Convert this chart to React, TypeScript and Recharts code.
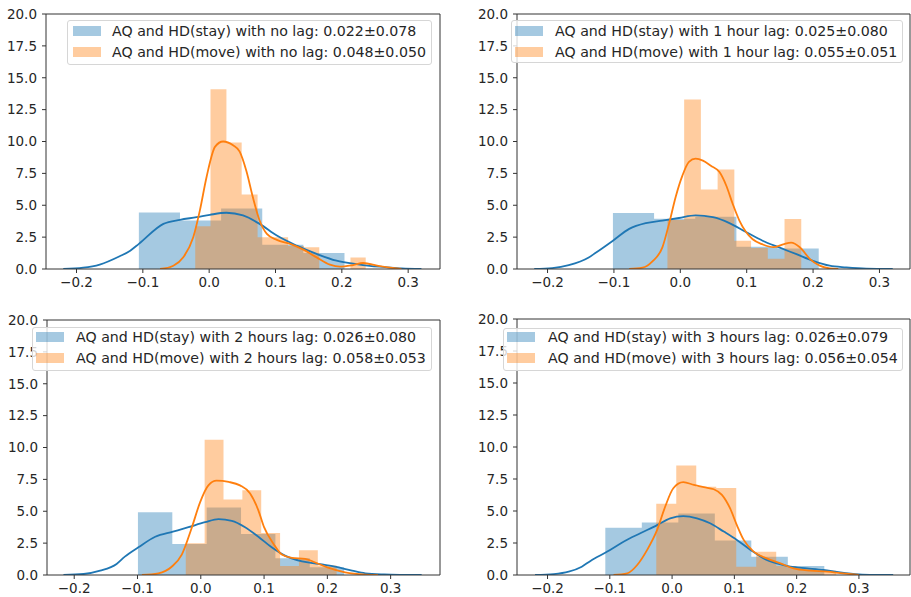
import React from "react";
import {
  ComposedChart,
  Area,
  Line,
  XAxis,
  YAxis,
  ReferenceLine,
} from "recharts";

const BLUE = "#1f77b4";
const ORANGE = "#ff7f0e";
const FONT = "'DejaVu Sans', sans-serif";
const TEXT = "#262626";

const Y_TICKS = [0, 2.5, 5, 7.5, 10, 12.5, 15, 17.5, 20];
const X_TICKS = [-0.2, -0.1, 0, 0.1, 0.2, 0.3];

const stayLabels = [
  "AQ and HD(stay) with no lag: 0.022±0.078",
  "AQ and HD(stay) with 1 hour lag: 0.025±0.080",
  "AQ and HD(stay) with 2 hours lag: 0.026±0.080",
  "AQ and HD(stay) with 3 hours lag: 0.026±0.079",
];
const moveLabels = [
  "AQ and HD(move) with no lag: 0.048±0.050",
  "AQ and HD(move) with 1 hour lag: 0.055±0.051",
  "AQ and HD(move) with 2 hours lag: 0.058±0.053",
  "AQ and HD(move) with 3 hours lag: 0.056±0.054",
];

// x ranges of each panel
const xDomains = [
  [-0.246, 0.348],
  [-0.246, 0.346],
  [-0.243, 0.378],
  [-0.249, 0.382],
];

// no lag
const stayEdges1 = [-0.106, -0.044, 0.018, 0.08, 0.142, 0.204];
const stayHeights1 = [4.43, 3.8, 4.75, 1.9, 1.26];
const moveEdges1 = [-0.021, 0.002, 0.026, 0.049, 0.073, 0.096, 0.119, 0.143, 0.166, 0.189, 0.213, 0.236];
const moveHeights1 = [3.36, 14.1, 9.92, 5.85, 2.49, 2.49, 1.8, 1.7, 0, 0, 0.9];
const stayKdeX1 = [-0.22, -0.19, -0.165, -0.135, -0.119, -0.106, -0.069, -0.044, -0.019, 0.001, 0.026, 0.051, 0.076, 0.102, 0.132, 0.162, 0.192, 0.222, 0.242, 0.265, 0.29, 0.32];
const stayKdeY1 = [0, 0.1, 0.35, 1.0, 1.44, 1.97, 3.54, 3.86, 4.06, 4.25, 4.41, 4.2, 3.54, 2.62, 1.83, 1.18, 0.65, 0.38, 0.25, 0.15, 0.04, 0];
const moveKdeX1 = [-0.074, -0.054, -0.039, -0.024, -0.014, -0.004, 0.009, 0.021, 0.036, 0.046, 0.056, 0.066, 0.076, 0.087, 0.102, 0.122, 0.142, 0.162, 0.182, 0.197, 0.217, 0.232, 0.255, 0.29];
const moveKdeY1 = [0, 0.26, 0.92, 2.49, 4.6, 7.2, 9.6, 10.0, 9.7, 9.2, 7.7, 5.6, 3.8, 2.75, 2.28, 1.97, 1.52, 0.91, 0.34, 0.18, 0.31, 0.47, 0.25, 0];

// 1 hour lag
const stayEdges2 = [-0.1015, -0.0395, 0.0225, 0.0845, 0.1465, 0.2085];
const stayHeights2 = [4.4, 3.95, 4.1, 1.75, 1.6];
const moveEdges2 = [-0.0194, 0.0058, 0.031, 0.0562, 0.0814, 0.1066, 0.1318, 0.157, 0.1822];
const moveHeights2 = [3.85, 13.3, 6.23, 7.8, 2.22, 1.65, 0.8, 3.93];
const stayKdeX2 = [-0.22, -0.193, -0.168, -0.138, -0.128, -0.1015, -0.077, -0.052, -0.027, -0.002, 0.023, 0.049, 0.074, 0.099, 0.124, 0.149, 0.175, 0.2, 0.225, 0.25, 0.28, 0.32];
const stayKdeY2 = [0, 0.07, 0.3, 0.9, 1.25, 2.22, 3.15, 3.6, 3.8, 4.0, 4.2, 4.06, 3.6, 2.9, 2.22, 1.69, 1.16, 0.64, 0.26, 0.13, 0.03, 0];
const moveKdeX2 = [-0.077, -0.057, -0.042, -0.027, -0.017, -0.007, 0.003, 0.013, 0.023, 0.034, 0.046, 0.059, 0.069, 0.079, 0.089, 0.099, 0.109, 0.124, 0.14, 0.155, 0.167, 0.18, 0.195, 0.21, 0.225, 0.238];
const moveKdeY2 = [0, 0.1, 0.6, 1.7, 3.54, 5.65, 7.3, 8.4, 8.65, 8.5, 8.1, 7.6, 6.57, 5.1, 3.8, 2.9, 2.33, 1.93, 1.71, 1.93, 2.07, 1.71, 0.8, 0.26, 0.05, 0];

// 2 hours lag
const stayEdges3 = [-0.0993, -0.045, 0.0093, 0.0636, 0.1179, 0.1722, 0.2265];
const stayHeights3 = [4.93, 2.44, 5.3, 3.22, 1.31, 0.6];
const moveEdges3 = [-0.0237, 0.0061, 0.0359, 0.0657, 0.0955, 0.1253, 0.1551, 0.1849, 0.2147];
const moveHeights3 = [2.5, 10.6, 5.93, 6.64, 3.3, 0.7, 1.95, 0.75];
const stayKdeX3 = [-0.217, -0.185, -0.159, -0.133, -0.12, -0.0986, -0.072, -0.044, -0.0195, 0.0068, 0.028, 0.049, 0.07, 0.091, 0.112, 0.133, 0.16, 0.186, 0.212, 0.239, 0.26, 0.29, 0.32, 0.349];
const stayKdeY3 = [0, 0.08, 0.34, 0.87, 1.44, 2.17, 3.0, 3.4, 3.75, 4.14, 4.38, 4.25, 3.75, 3.0, 2.17, 1.52, 1.07, 0.87, 0.65, 0.34, 0.13, 0.04, 0.01, 0];
const moveKdeX3 = [-0.093, -0.067, -0.046, -0.03, -0.014, -0.001, 0.012, 0.025, 0.044, 0.062, 0.078, 0.091, 0.1, 0.115, 0.128, 0.144, 0.165, 0.18, 0.2, 0.228, 0.26, 0.28];
const moveKdeY3 = [0, 0.13, 0.65, 1.6, 3.75, 5.72, 7.03, 7.4, 7.3, 7.03, 6.4, 5.07, 3.75, 2.44, 1.6, 1.34, 1.27, 1.0, 0.6, 0.21, 0.03, 0];

// 3 hours lag
const stayEdges4 = [-0.1072, -0.0486, 0.01, 0.0686, 0.1272, 0.1858, 0.2444];
const stayHeights4 = [3.7, 4.1, 4.8, 2.7, 1.43, 0.7];
const moveEdges4 = [-0.0254, 0.0067, 0.0388, 0.0709, 0.103, 0.1351, 0.1672, 0.1993, 0.2314, 0.2635];
const moveHeights4 = [5.56, 8.55, 6.9, 6.8, 0.65, 1.82, 0.7, 0.5, 0.33];
const stayKdeX4 = [-0.22, -0.19, -0.166, -0.145, -0.131, -0.104, -0.078, -0.051, -0.024, -0.003, 0.018, 0.04, 0.061, 0.083, 0.104, 0.126, 0.147, 0.168, 0.19, 0.217, 0.243, 0.27, 0.3, 0.325, 0.355];
const stayKdeY4 = [0, 0.07, 0.26, 0.65, 1.1, 1.83, 2.6, 3.26, 3.9, 4.43, 4.6, 4.43, 4.04, 3.39, 2.74, 1.96, 1.3, 0.91, 0.65, 0.52, 0.39, 0.2, 0.05, 0.01, 0];
const moveKdeX4 = [-0.094, -0.072, -0.056, -0.04, -0.024, -0.011, 0.002, 0.018, 0.035, 0.051, 0.067, 0.08, 0.093, 0.104, 0.115, 0.131, 0.152, 0.174, 0.195, 0.222, 0.249, 0.27, 0.3];
const moveKdeY4 = [0, 0.13, 0.78, 1.96, 3.52, 5.35, 6.78, 7.25, 7.04, 6.86, 6.7, 6.26, 5.22, 3.9, 2.74, 1.83, 1.3, 0.91, 0.52, 0.34, 0.26, 0.15, 0];

// histogram as step area: last edge repeats the last height
function histData(edges: number[], heights: number[]) {
  return edges.map((x, i) => ({ x, y: heights[Math.min(i, heights.length - 1)] }));
}

function kdeData(xs: number[], ys: number[]) {
  return xs.map((x, i) => ({ x, y: ys[i] }));
}

const fmt = (v: number) =>
  v < 0 ? "\u2212" + Math.abs(v).toFixed(1) : v.toFixed(1);

const panels = [
  {
    left: 0, top: 0, width: 455, height: 300,
    margin: { top: 14, right: 15, bottom: 0, left: 0 }, yWidth: 46, xHeight: 31,
    stayHist: histData(stayEdges1, stayHeights1), moveHist: histData(moveEdges1, moveHeights1),
    stayKde: kdeData(stayKdeX1, stayKdeY1), moveKde: kdeData(moveKdeX1, moveKdeY1),
    legend: { left: 67, top: 20, width: 365, height: 45, patch: 73, text: 112, rows: [31, 51.7] },
  },
  {
    left: 455, top: 0, width: 456, height: 300,
    margin: { top: 14, right: 1, bottom: 0, left: 0 }, yWidth: 62, xHeight: 31,
    stayHist: histData(stayEdges2, stayHeights2), moveHist: histData(moveEdges2, moveHeights2),
    stayKde: kdeData(stayKdeX2, stayKdeY2), moveKde: kdeData(moveKdeX2, moveKdeY2),
    legend: { left: 511, top: 20, width: 392, height: 43, patch: 515, text: 555, rows: [31, 51.7] },
  },
  {
    left: 0, top: 300, width: 455, height: 297,
    margin: { top: 20, right: 15, bottom: 0, left: 0 }, yWidth: 47, xHeight: 22,
    stayHist: histData(stayEdges3, stayHeights3), moveHist: histData(moveEdges3, moveHeights3),
    stayKde: kdeData(stayKdeX3, stayKdeY3), moveKde: kdeData(moveKdeX3, moveKdeY3),
    legend: { left: 32, top: 327, width: 400, height: 44, patch: 36, text: 76, rows: [337, 358.3] },
  },
  {
    left: 455, top: 300, width: 456, height: 297,
    margin: { top: 19, right: 1, bottom: 0, left: 0 }, yWidth: 62, xHeight: 22,
    stayHist: histData(stayEdges4, stayHeights4), moveHist: histData(moveEdges4, moveHeights4),
    stayKde: kdeData(stayKdeX4, stayKdeY4), moveKde: kdeData(moveKdeX4, moveKdeY4),
    legend: { left: 503, top: 328, width: 400, height: 43, patch: 507, text: 548, rows: [337.3, 358.3] },
  },
];

function Legend({ spec, labels }: { spec: any; labels: string[] }) {
  const colors = ["rgba(31,119,180,0.4)", "rgba(255,127,14,0.4)"];
  return (
    <>
      <div
        style={{
          position: "absolute",
          left: spec.left,
          top: spec.top,
          width: spec.width,
          height: spec.height,
          background: "rgba(255,255,255,0.8)",
          border: "1px solid #d6d6d6",
          borderRadius: 3,
          boxSizing: "border-box",
        }}
      />
      {labels.map((label, i) => (
        <React.Fragment key={label}>
          <div
            style={{
              position: "absolute",
              left: spec.patch,
              top: spec.rows[i] - 5,
              width: 28,
              height: 10,
              background: colors[i],
            }}
          />
          <div
            style={{
              position: "absolute",
              left: spec.text,
              top: spec.rows[i] - 9,
              height: 18,
              lineHeight: "18px",
              fontSize: 14.2,
              fontFamily: FONT,
              color: TEXT,
              whiteSpace: "nowrap",
            }}
          >
            {label}
          </div>
        </React.Fragment>
      ))}
    </>
  );
}

export default function App() {
  return (
    <div
      style={{
        position: "absolute",
        left: 0,
        top: 0,
        width: 911,
        height: 597,
        background: "#fff",
        overflow: "hidden",
      }}
    >
      {panels.map((p, i) => {
        const [xmin, xmax] = xDomains[i];
        return (
          <div key={i} style={{ position: "absolute", left: p.left, top: p.top }}>
            <ComposedChart width={p.width} height={p.height} margin={p.margin}>
              <XAxis
                type="number"
                dataKey="x"
                domain={[xmin, xmax]}
                allowDataOverflow
                ticks={X_TICKS}
                tickFormatter={fmt}
                height={p.xHeight}
                tickSize={4}
                tickMargin={4}
                interval={0}
                axisLine={{ stroke: "#333" }}
                tickLine={{ stroke: "#333" }}
                tick={{ fill: TEXT, fontSize: 13.5, fontFamily: FONT }}
              />
              <YAxis
                type="number"
                domain={[0, 20]}
                allowDataOverflow
                ticks={Y_TICKS}
                tickFormatter={(v: number) => v.toFixed(1)}
                width={p.yWidth}
                tickSize={4}
                tickMargin={5}
                interval={0}
                axisLine={{ stroke: "#333" }}
                tickLine={{ stroke: "#333" }}
                tick={{ fill: TEXT, fontSize: 13.5, fontFamily: FONT }}
              />
              <Area
                data={p.stayHist}
                dataKey="y"
                type="stepAfter"
                stroke="none"
                fill={BLUE}
                fillOpacity={0.4}
                isAnimationActive={false}
              />
              <Line
                data={p.stayKde}
                dataKey="y"
                type="monotone"
                stroke={BLUE}
                strokeWidth={1.8}
                dot={false}
                isAnimationActive={false}
              />
              <Area
                data={p.moveHist}
                dataKey="y"
                type="stepAfter"
                stroke="none"
                fill={ORANGE}
                fillOpacity={0.4}
                isAnimationActive={false}
              />
              <Line
                data={p.moveKde}
                dataKey="y"
                type="monotone"
                stroke={ORANGE}
                strokeWidth={1.8}
                dot={false}
                isAnimationActive={false}
              />
              <ReferenceLine y={20} stroke="#333" />
              <ReferenceLine x={xmax} stroke="#333" />
            </ComposedChart>
          </div>
        );
      })}
      {panels.map((p, i) => (
        <Legend key={"l" + i} spec={p.legend} labels={[stayLabels[i], moveLabels[i]]} />
      ))}
    </div>
  );
}
